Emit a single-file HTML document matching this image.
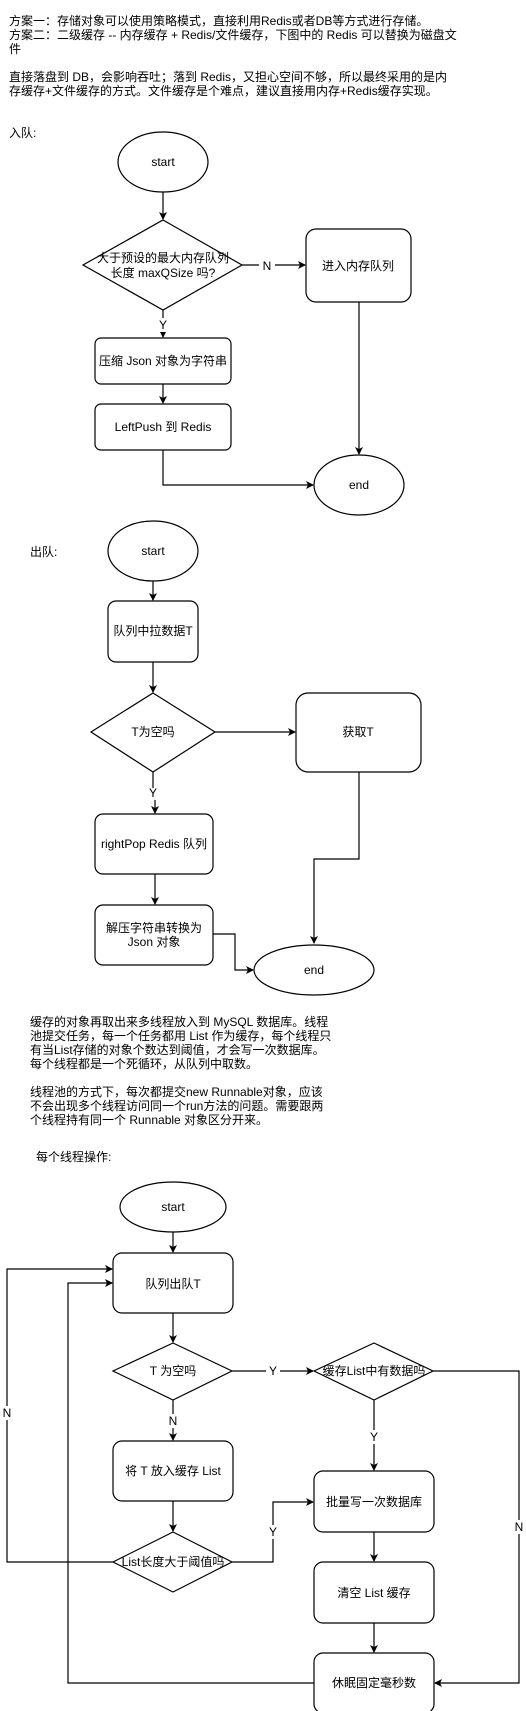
<!DOCTYPE html>
<html><head><meta charset="utf-8"><style>
html,body{margin:0;padding:0;background:#fff;}
svg{display:block;}
text{font-family:"Liberation Sans","Noto Sans CJK SC",sans-serif;font-size:12px;fill:#000;}
.s{fill:#fff;stroke:#000;stroke-width:1.2;}
.l{fill:none;stroke:#000;stroke-width:1.2;}
</style></head><body>
<svg width="526" height="1711" viewBox="0 0 526 1711" xmlns="http://www.w3.org/2000/svg">
<defs><marker id="a" markerWidth="8" markerHeight="8" refX="7" refY="4" orient="auto" markerUnits="userSpaceOnUse"><path d="M0,0 L8,4 L0,8 L2,4 z" fill="#000"/></marker></defs>
<g>
<text x="9" y="25">方案一：存储对象可以使用策略模式，直接利用Redis或者DB等方式进行存储。</text>
<text x="9" y="39">方案二：二级缓存 -- 内存缓存 + Redis/文件缓存，下图中的 Redis 可以替换为磁盘文</text>
<text x="9" y="53">件</text>
<text x="9" y="81">直接落盘到 DB，会影响吞吐；落到 Redis，又担心空间不够，所以最终采用的是内</text>
<text x="9" y="95">存缓存+文件缓存的方式。文件缓存是个难点，建议直接用内存+Redis缓存实现。</text>
<text x="9" y="137">入队:</text>
</g>
<!-- enqueue -->
<ellipse class="s" cx="163" cy="162" rx="45" ry="30"/><text x="163" y="166" text-anchor="middle">start</text>
<path class="l" d="M163,192 V219" marker-end="url(#a)"/>
<polygon class="s" points="163,220 242,265 163,310 83,265"/>
<text x="163" y="262" text-anchor="middle">大于预设的最大内存队列</text>
<text x="163" y="277" text-anchor="middle">长度 maxQSize 吗?</text>
<path class="l" d="M242,265 H305" marker-end="url(#a)"/>
<rect x="259" y="258" width="16" height="14" fill="#fff"/><text x="267" y="270" text-anchor="middle">N</text>
<rect class="s" x="306" y="229" width="105" height="73" rx="10"/><text x="358" y="270" text-anchor="middle">进入内存队列</text>
<path class="l" d="M163,310 V337" marker-end="url(#a)"/>
<rect x="156" y="318" width="14" height="14" fill="#fff"/><text x="163" y="329" text-anchor="middle">Y</text>
<rect class="s" x="95" y="338" width="136" height="46" rx="6"/><text x="163" y="365" text-anchor="middle">压缩 Json 对象为字符串</text>
<path class="l" d="M163,384 V403" marker-end="url(#a)"/>
<rect class="s" x="95" y="404" width="136" height="46" rx="6"/><text x="163" y="431" text-anchor="middle">LeftPush 到 Redis</text>
<path class="l" d="M163,450 V485 H313" marker-end="url(#a)"/>
<path class="l" d="M359,302 V454" marker-end="url(#a)"/>
<ellipse class="s" cx="359" cy="485" rx="45" ry="30"/><text x="359" y="489" text-anchor="middle">end</text>
<!-- dequeue -->
<text x="30" y="556">出队:</text>
<ellipse class="s" cx="153" cy="551" rx="45" ry="30"/><text x="153" y="555" text-anchor="middle">start</text>
<path class="l" d="M153,581 V600" marker-end="url(#a)"/>
<rect class="s" x="108" y="601" width="90" height="61" rx="8"/><text x="153" y="635" text-anchor="middle">队列中拉数据T</text>
<path class="l" d="M153,662 V692" marker-end="url(#a)"/>
<polygon class="s" points="153,693 215,732 153,772 91,732"/><text x="153" y="736" text-anchor="middle">T为空吗</text>
<path class="l" d="M215,732 H295" marker-end="url(#a)"/>
<rect class="s" x="296" y="693" width="125" height="79" rx="12"/><text x="358" y="736" text-anchor="middle">获取T</text>
<path class="l" d="M153,772 V788 M155,800 V813" marker-end="url(#a)"/>
<text x="153" y="797" text-anchor="middle">Y</text>
<rect class="s" x="95" y="814" width="118" height="60" rx="8"/><text x="154" y="848" text-anchor="middle">rightPop Redis 队列</text>
<path class="l" d="M155,874 V904" marker-end="url(#a)"/>
<rect class="s" x="95" y="905" width="118" height="60" rx="8"/>
<text x="154" y="932" text-anchor="middle">解压字符串转换为</text><text x="154" y="946" text-anchor="middle">Json 对象</text>
<path class="l" d="M213,934 H235 V970 H253" marker-end="url(#a)"/>
<path class="l" d="M359,772 V859 H314 V943" marker-end="url(#a)"/>
<ellipse class="s" cx="314" cy="970" rx="60" ry="25"/><text x="314" y="974" text-anchor="middle">end</text>
<!-- paragraph -->
<text x="30" y="1026">缓存的对象再取出来多线程放入到 MySQL 数据库。线程</text>
<text x="30" y="1040">池提交任务，每一个任务都用 List 作为缓存，每个线程只</text>
<text x="30" y="1054">有当List存储的对象个数达到阈值，才会写一次数据库。</text>
<text x="30" y="1068">每个线程都是一个死循环，从队列中取数。</text>
<text x="30" y="1096">线程池的方式下，每次都提交new Runnable对象，应该</text>
<text x="30" y="1110">不会出现多个线程访问同一个run方法的问题。需要跟两</text>
<text x="30" y="1124">个线程持有同一个 Runnable 对象区分开来。</text>
<text x="36" y="1161">每个线程操作:</text>
<!-- thread -->
<ellipse class="s" cx="173" cy="1207" rx="53" ry="25"/><text x="173" y="1211" text-anchor="middle">start</text>
<path class="l" d="M173,1232 V1252" marker-end="url(#a)"/>
<rect class="s" x="113" y="1253" width="120" height="60" rx="9"/><text x="173" y="1288" text-anchor="middle">队列出队T</text>
<path class="l" d="M173,1313 V1342" marker-end="url(#a)"/>
<polygon class="s" points="173,1343 232,1371 173,1400 113,1371"/><text x="173" y="1375" text-anchor="middle">T 为空吗</text>
<path class="l" d="M232,1371 H313" marker-end="url(#a)"/>
<rect x="266" y="1364" width="14" height="14" fill="#fff"/><text x="273" y="1375" text-anchor="middle">Y</text>
<polygon class="s" points="374,1343 433,1371 374,1400 314,1371"/><text x="374" y="1375" text-anchor="middle">缓存List中有数据吗</text>
<path class="l" d="M173,1400 V1440" marker-end="url(#a)"/>
<rect x="166" y="1414" width="14" height="14" fill="#fff"/><text x="173" y="1425" text-anchor="middle">N</text>
<rect class="s" x="113" y="1441" width="120" height="60" rx="9"/><text x="173" y="1475" text-anchor="middle">将 T 放入缓存 List</text>
<path class="l" d="M173,1501 V1531" marker-end="url(#a)"/>
<polygon class="s" points="173,1532 232,1562 173,1592 113,1562"/><text x="173" y="1566" text-anchor="middle">List长度大于阈值吗</text>
<path class="l" d="M113,1562 H7 V1269 H112" marker-end="url(#a)"/>
<rect x="0" y="1406" width="14" height="14" fill="#fff"/><text x="7" y="1417" text-anchor="middle">N</text>
<path class="l" d="M314,1683 H68 V1283 H112" marker-end="url(#a)"/>
<path class="l" d="M232,1562 H273 V1502 H313" marker-end="url(#a)"/>
<rect x="266" y="1525" width="14" height="14" fill="#fff"/><text x="273" y="1536" text-anchor="middle">Y</text>
<path class="l" d="M374,1400 V1470" marker-end="url(#a)"/>
<rect x="367" y="1430" width="14" height="14" fill="#fff"/><text x="374" y="1441" text-anchor="middle">Y</text>
<rect class="s" x="314" y="1471" width="120" height="61" rx="9"/><text x="374" y="1506" text-anchor="middle">批量写一次数据库</text>
<path class="l" d="M374,1532 V1561" marker-end="url(#a)"/>
<rect class="s" x="314" y="1562" width="120" height="61" rx="9"/><text x="374" y="1597" text-anchor="middle">清空 List 缓存</text>
<path class="l" d="M374,1623 V1652" marker-end="url(#a)"/>
<rect class="s" x="314" y="1653" width="120" height="60" rx="9"/><text x="374" y="1687" text-anchor="middle">休眠固定毫秒数</text>
<path class="l" d="M433,1371 H519 V1683 H435" marker-end="url(#a)"/>
<rect x="512" y="1520" width="14" height="14" fill="#fff"/><text x="519" y="1531" text-anchor="middle">N</text>
</svg>
</body></html>
